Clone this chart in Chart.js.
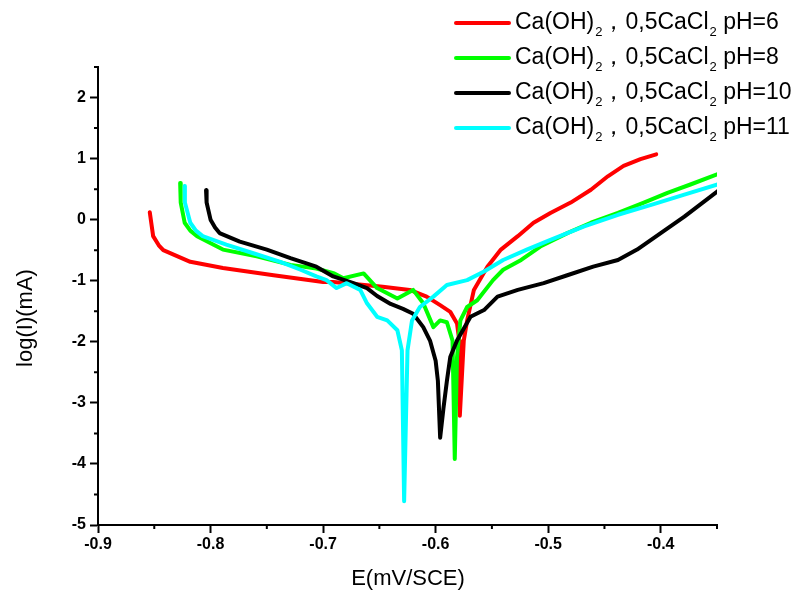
<!DOCTYPE html>
<html>
<head>
<meta charset="utf-8">
<script src="https://cdn.jsdelivr.net/npm/chart.js@4.4.0/dist/chart.umd.min.js"></script>
<style>
  body { margin: 0; background: #fff; }
  #polarization { width: 800px; height: 597px; }
</style>
</head>
<body>
<div id="polarization"><canvas id="polarization-chart"></canvas></div>
<script>
// potential E (V/SCE) and log(I), one pair of arrays per pH
const labels = [
  "Ca(OH)₂，0,5CaCl₂ pH=6",
  "Ca(OH)₂，0,5CaCl₂ pH=8",
  "Ca(OH)₂，0,5CaCl₂ pH=10",
  "Ca(OH)₂，0,5CaCl₂ pH=11",
];
const colors = ["#ff0000", "#00ff00", "#000000", "#00ffff"];

const e_ph6 = [-0.854, -0.851, -0.846, -0.842, -0.818, -0.789, -0.744, -0.700, -0.691, -0.647, -0.623,
  -0.608, -0.596, -0.587, -0.581, -0.579, -0.5785, -0.575, -0.572, -0.566, -0.554,
  -0.542, -0.527, -0.513, -0.498, -0.480, -0.462, -0.447, -0.433, -0.418, -0.404];
const logi_ph6 = [0.12, -0.27, -0.42, -0.50, -0.69, -0.79, -0.91, -1.02, -1.02, -1.10, -1.15,
  -1.26, -1.40, -1.51, -1.70, -1.98, -3.21, -1.98, -1.65, -1.15, -0.77,
  -0.49, -0.27, -0.05, 0.11, 0.28, 0.49, 0.71, 0.88, 0.99, 1.07];

const e_ph8 = [-0.827, -0.8265, -0.823, -0.818, -0.812, -0.789, -0.759, -0.729, -0.706, -0.690, -0.682,
  -0.664, -0.652, -0.634, -0.620, -0.611, -0.602, -0.596, -0.590, -0.585, -0.583,
  -0.581, -0.578, -0.572, -0.563, -0.549, -0.540, -0.524, -0.507, -0.483, -0.462,
  -0.438, -0.415, -0.394, -0.373, -0.349];
const logi_ph8 = [0.60, 0.28, -0.05, -0.18, -0.27, -0.49, -0.60, -0.74, -0.80, -0.88, -0.96,
  -0.88, -1.12, -1.29, -1.15, -1.37, -1.76, -1.65, -1.68, -1.98, -3.92,
  -2.25, -1.65, -1.43, -1.32, -0.99, -0.82, -0.66, -0.44, -0.22, -0.05,
  0.11, 0.28, 0.44, 0.58, 0.75];

const e_ph10 = [-0.804, -0.8035, -0.800, -0.796, -0.792, -0.774, -0.750, -0.729, -0.706, -0.691, -0.673,
  -0.661, -0.652, -0.640, -0.629, -0.620, -0.611, -0.605, -0.600, -0.598, -0.596,
  -0.593, -0.590, -0.587, -0.581, -0.569, -0.557, -0.545, -0.527, -0.504, -0.483,
  -0.460, -0.438, -0.421, -0.400, -0.379, -0.349];
const logi_ph10 = [0.48, 0.28, 0.00, -0.13, -0.22, -0.36, -0.49, -0.63, -0.77, -0.93, -1.04,
  -1.12, -1.25, -1.38, -1.46, -1.54, -1.76, -1.98, -2.31, -2.64, -3.57,
  -3.08, -2.64, -2.25, -1.98, -1.59, -1.48, -1.26, -1.15, -1.04, -0.91,
  -0.77, -0.66, -0.49, -0.22, 0.05, 0.47];

const e_ph11 = [-0.823, -0.8228, -0.818, -0.813, -0.807, -0.786, -0.762, -0.738, -0.720, -0.706, -0.697,
  -0.688, -0.679, -0.667, -0.661, -0.652, -0.643, -0.634, -0.630, -0.628, -0.625,
  -0.621, -0.614, -0.602, -0.590, -0.572, -0.557, -0.540, -0.519, -0.498, -0.468,
  -0.438, -0.407, -0.379, -0.349];
const logi_ph11 = [0.55, 0.28, -0.05, -0.18, -0.27, -0.41, -0.55, -0.69, -0.82, -0.93, -0.99,
  -1.12, -1.04, -1.15, -1.37, -1.59, -1.65, -1.81, -2.14, -4.61, -2.14,
  -1.65, -1.43, -1.26, -1.07, -0.99, -0.85, -0.66, -0.49, -0.33, -0.11,
  0.08, 0.25, 0.41, 0.58];

const x_title = "E(mV/SCE)";
const y_title = "log(I)(mA)";
const FONT = "'Liberation Sans', Arial, sans-serif";

function to_points(xs, ys) {
  return xs.map((v, i) => ({ x: v, y: ys[i] }));
}

// draws "2" as a subscript wherever the label has ₂
function draw_sub_text(ctx, text, x, y, size) {
  const parts = text.split("₂");
  parts.forEach((part, i) => {
    ctx.font = size + "px " + FONT;
    ctx.fillText(part, x, y);
    x += ctx.measureText(part).width;
    if (i < parts.length - 1) {
      ctx.font = Math.round(size * 0.56) + "px " + FONT;
      ctx.fillText("2", x + 1, y + 9);
      x += ctx.measureText("2").width + 1;
    }
  });
}

const extras = {
  id: "extras",
  afterDraw(chart) {
    const ctx = chart.ctx;
    const xs = chart.scales.x;
    const ys = chart.scales.y;
    ctx.save();
    // minor ticks
    ctx.strokeStyle = "#000";
    ctx.lineWidth = 2;
    ctx.beginPath();
    for (let v = -0.85; v <= -0.349; v += 0.1) {
      const px = xs.getPixelForValue(v);
      ctx.moveTo(px, xs.top);
      ctx.lineTo(px, xs.top + 4);
    }
    for (let v = -4.5; v <= 2.5; v += 1) {
      const py = ys.getPixelForValue(v);
      ctx.moveTo(ys.right, py);
      ctx.lineTo(ys.right - 4, py);
    }
    ctx.stroke();

    // axis titles
    ctx.fillStyle = "#000";
    ctx.textAlign = "center";
    ctx.textBaseline = "middle";
    ctx.font = "22px " + FONT;
    ctx.fillText(x_title, 408, 579);
    ctx.translate(26, 318);
    ctx.rotate(-Math.PI / 2);
    ctx.fillText(y_title, 0, 0);
    ctx.restore();

    // legend, top right
    ctx.save();
    ctx.textAlign = "left";
    ctx.textBaseline = "middle";
    chart.data.datasets.forEach((ds, i) => {
      const ry = 23 + i * 35;
      ctx.strokeStyle = ds.borderColor;
      ctx.lineWidth = 4;
      ctx.lineCap = "round";
      ctx.beginPath();
      ctx.moveTo(456, ry);
      ctx.lineTo(509, ry);
      ctx.stroke();
      ctx.fillStyle = "#000";
      draw_sub_text(ctx, ds.label, 515, ry, 23);
    });
    ctx.restore();
  },
};

const series = [
  to_points(e_ph6, logi_ph6),
  to_points(e_ph8, logi_ph8),
  to_points(e_ph10, logi_ph10),
  to_points(e_ph11, logi_ph11),
];

const axis_style = {
  border: { display: true, color: "#000", width: 2 },
  grid: { drawOnChartArea: false, drawTicks: true, tickLength: 8, tickWidth: 2, tickColor: "#000" },
};

const ctx = document.getElementById("polarization-chart");
new Chart(ctx, {
  type: "line",
  data: {
    datasets: series.map((pts, i) => ({
      label: labels[i],
      data: pts,
      borderColor: colors[i],
      backgroundColor: colors[i],
      borderWidth: 4,
      pointRadius: 0,
      tension: 0,
      borderJoinStyle: "round",
      borderCapStyle: "round",
      order: 4 - i,
    })),
  },
  options: {
    responsive: true,
    maintainAspectRatio: false,
    animation: false,
    layout: { padding: { left: 0, top: 67, right: 83, bottom: 0 } },
    plugins: { legend: { display: false }, tooltip: { enabled: false } },
    scales: {
      x: {
        type: "linear",
        min: -0.9,
        max: -0.35,
        afterFit: (scale) => { scale.height = 72; },
        ...axis_style,
        ticks: {
          stepSize: 0.1,
          includeBounds: false,
          color: "#000",
          padding: 2,
          maxRotation: 0,
          font: { family: FONT, size: 16, weight: "bold" },
        },
      },
      y: {
        type: "linear",
        min: -5,
        max: 2.5,
        afterFit: (scale) => { scale.width = 98; },
        ...axis_style,
        ticks: {
          stepSize: 1,
          includeBounds: false,
          color: "#000",
          padding: 4,
          font: { family: FONT, size: 16, weight: "bold" },
        },
      },
    },
  },
  plugins: [extras],
});
</script>
</body>
</html>
